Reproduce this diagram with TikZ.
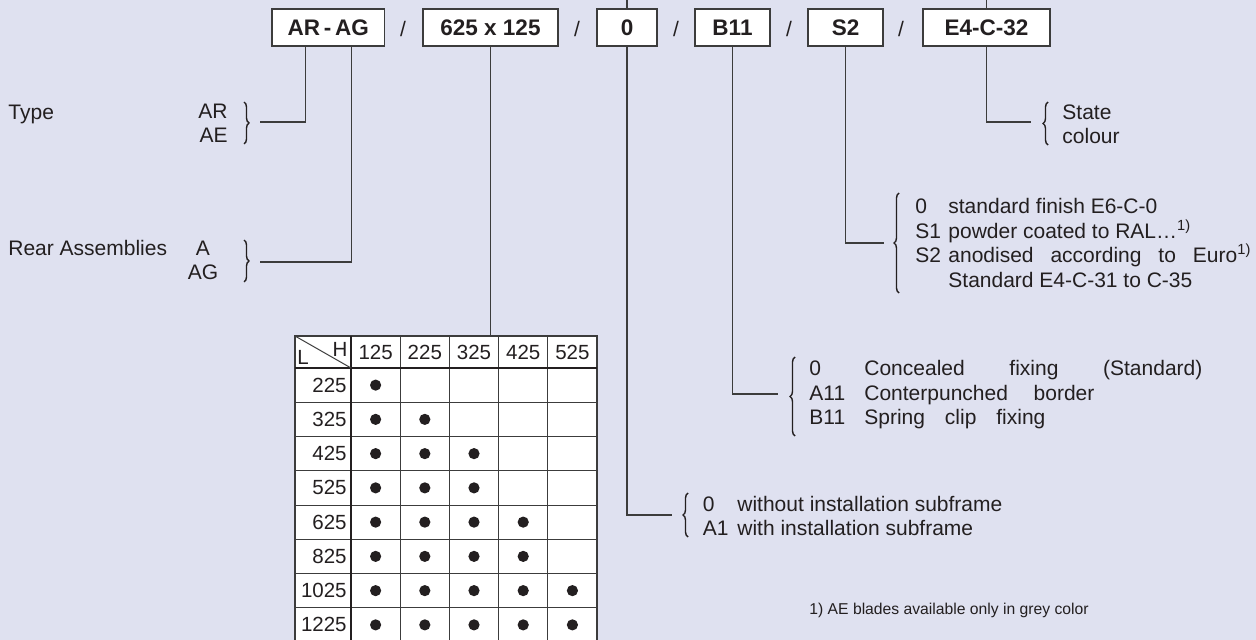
\documentclass[tikz,border=0pt]{standalone}
\usepackage{fontspec}
\setmainfont{Liberation Sans}
\usetikzlibrary{calc,decorations.pathreplacing}
\definecolor{paper}{HTML}{DFE1F0}
\definecolor{ink}{HTML}{231F20}
\definecolor{rule}{HTML}{3C3C3C}

\begin{document}
\begin{tikzpicture}[x=0.5pt,y=-0.5pt,
  codebox/.style={draw=rule, line width=0.8pt, fill=white, inner sep=0pt,
    minimum height=18.5pt, font=\bfseries\fontsize{11.25}{13}\selectfont, text=ink},
  sep/.style={font=\fontsize{10.5}{12}\selectfont, text=ink, inner sep=0pt},
  lbl/.style={font=\fontsize{10.5}{12.25}\selectfont, text=ink, inner sep=0pt, align=left},
  conn/.style={draw=rule, line width=0.6pt},
  curly/.style={draw=ink, line width=0.7pt, decorate, decoration={brace, amplitude=2.5pt}},
  cell/.style={font=\fontsize{10.25}{12}\selectfont, text=ink, inner sep=0pt},
  tabline/.style={draw=rule, line width=0.5pt},
  tabthick/.style={draw=ink, line width=1.2pt}]
  \fill[paper] (0,0) rectangle (1256,640);
  \useasboundingbox (0,0) rectangle (1256,640);

  % order code
  \node[codebox, minimum width=56.25pt] (arag) at (328.25,27.5) {AR\,-\,AG};
  \node[sep] (sl1) at (403,29) {/};
  \node[codebox, minimum width=67.5pt] (dims) at (490.5,27.5) {625 x 125};
  \node[sep] (sl2) at (577,29) {/};
  \node[codebox, minimum width=30pt] (inst) at (627,27.5) {0};
  \node[sep] (sl3) at (676,29) {/};
  \node[codebox, minimum width=37.5pt] (fixg) at (732.5,27.5) {B11};
  \node[sep] (sl4) at (789,29) {/};
  \node[codebox, minimum width=37.5pt] (fini) at (845.5,27.5) {S2};
  \node[sep] (sl5) at (901,29) {/};
  \node[codebox, minimum width=63.5pt] (colr) at (986.5,27.5) {E4-C-32};

  % options
  \node[lbl, anchor=base west] (typelbl) at (8,119.5) {Type};
  \node[lbl, align=right, anchor=east] (typeopt) at (228,123.5) {AR\\AE};
  \node[lbl, anchor=base west] (rearlbl) at (8,255.5) {Rear Assemblies};
  \node[lbl, align=center] (rearopt) at (203,260.5) {A\\AG};
  \node[lbl, anchor=west] (colopt) at (1062,124.5) {State\\colour};
  \node[lbl, anchor=west] (finopt) at (915,243) {%
    \makebox[16.5pt][l]{0}standard finish E6-C-0\\
    \makebox[16.5pt][l]{S1}powder coated to RAL\dots\textsuperscript{1)}\\
    \makebox[16.5pt][l]{S2}\makebox[151.5pt][s]{anodised according to Euro\textsuperscript{1)}}\\
    \makebox[16.5pt][l]{}Standard E4-C-31 to C-35};
  \node[lbl, anchor=west] (fixopt) at (809,395) {%
    \makebox[27.5pt][l]{0}\makebox[169pt][s]{Concealed fixing (Standard)}\\
    \makebox[27.5pt][l]{A11}\makebox[115pt][s]{Conterpunched border}\\
    \makebox[27.5pt][l]{B11}\makebox[90.5pt][s]{Spring clip fixing}};
  \node[lbl, anchor=west] (instopt) at (702.5,516) {%
    \makebox[17.25pt][l]{0}without installation subframe\\
    \makebox[17.25pt][l]{A1}with installation subframe};
  \node[font=\fontsize{7.85}{9}\selectfont, text=ink, inner sep=0pt, anchor=west] (note)
    at (809,610) {1) AE blades available only in grey color};

  % braces
  \draw[curly] (244,102) -- (244,144);
  \draw[curly] (244,240) -- (244,282);
  \draw[curly] (1048,145) -- (1048,102);
  \draw[curly] (899,293) -- (899,193);
  \draw[curly] (795,436) -- (795,357);
  \draw[curly] (688,537) -- (688,493);

  % connectors
  \coordinate (typetip) at (260,122);
  \coordinate (reartip) at (260,262);
  \coordinate (coltip) at (1031,122);
  \coordinate (fintip) at (884,243);
  \coordinate (fixtip) at (778,394);
  \coordinate (insttip) at (672,515);
  \coordinate (tabtop) at (490.5,336);
  \coordinate (instup) at (627,0);
  \coordinate (colup) at (986.5,0);
  \draw[conn] ($(arag.south)+(-23,0)$) |- (typetip);
  \draw[conn] ($(arag.south)+(23,0)$) |- (reartip);
  \draw[conn] (dims.south) -- (tabtop);
  \draw[conn] (inst.south) |- (insttip);
  \draw[conn] (inst.north) -- (instup);
  \draw[conn] (fixg.south) |- (fixtip);
  \draw[conn] (fini.south) |- (fintip);
  \draw[conn] (colr.south) |- (coltip);
  \draw[conn] (colr.north) -- (colup);

  % size table
  \fill[white] (295,336) rectangle (597,642);
  \foreach \x in {400.2,449.4,498.6,547.8}
    \draw[tabline] (\x,336) -- (\x,642);
  \foreach \i in {1,...,7}
    \draw[tabline] (295,{368+34.25*\i}) -- (597,{368+34.25*\i});
  \draw[tabline, line width=0.9pt] (295,642) |- (597,336) -- (597,642);
  \draw[tabthick] (351,336) -- (351,642);
  \draw[tabthick] (295,368) -- (597,368);
  \draw[tabline] (295,336) -- (351,368);
  \node[cell] (hh) at (340,349) {H};
  \node[cell] (ll) at (303,357) {L};
  \foreach \h [count=\c] in {125,225,325,425,525}
    \node[cell] (h\h) at ({375.6+49.2*(\c-1)},352) {\h};
  \foreach \l/\n [count=\r] in {225/1,325/2,425/3,525/3,625/4,825/4,1025/5,1225/5} {
    \node[cell, anchor=east] (l\l) at (347,{350.875+34.25*\r}) {\l};
    \foreach \c in {1,...,\n}
      \fill[ink] ({375.6+49.2*(\c-1)},{350.875+34.25*\r}) circle (2.8pt);
  }
\end{tikzpicture}
\end{document}
